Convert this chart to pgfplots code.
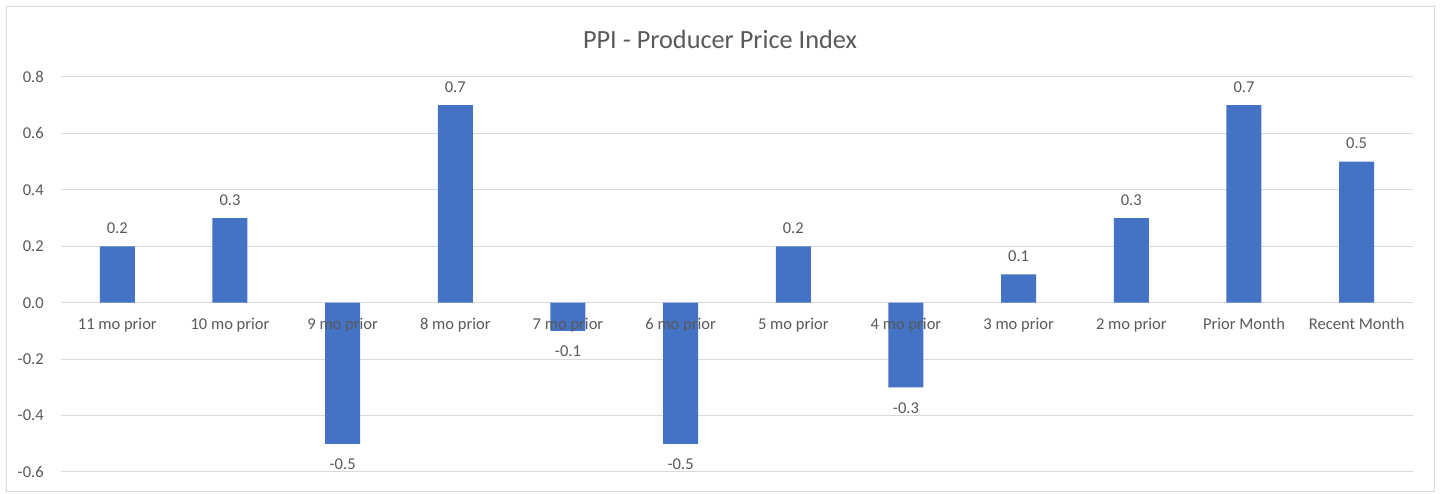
\documentclass[border=0pt]{standalone}
\usepackage{fontspec}
\setmainfont{Carlito}
\usepackage{pgfplots}
\pgfplotsset{compat=1.18}
\definecolor{barblue}{HTML}{4472C4}
\definecolor{txtgray}{HTML}{595959}
\definecolor{gridgray}{HTML}{D9D9D9}
\begin{document}
\begin{tikzpicture}
\path[use as bounding box] (0,0) rectangle (1084.5pt,369.75pt);
\draw[gridgray, line width=0.75pt] (4.5pt,1.5pt) rectangle (1075.5pt,364.5pt);
\node[txtgray, font=\fontsize{19.7}{22}\selectfont, anchor=center] at (540pt,340.5pt) {PPI - Producer Price Index};
\begin{axis}[
  axis on top,
  at={(45.75pt,15.75pt)}, anchor=south west,
  scale only axis,
  width=1014pt, height=296.25pt,
  xmin=-0.5, xmax=11.5,
  ymin=-0.6, ymax=0.8,
  ytick={-0.6,-0.4,-0.2,0,0.2,0.4,0.6,0.8},
  xtick={0,...,11},
  xticklabels={11 mo prior,10 mo prior,9 mo prior,8 mo prior,7 mo prior,6 mo prior,5 mo prior,4 mo prior,3 mo prior,2 mo prior,Prior Month,Recent Month},
  xticklabel style={anchor=base, yshift=106.5pt, inner sep=0pt, text=txtgray, font=\fontsize{12.4}{14}\selectfont},
  yticklabel style={anchor=east, inner sep=0pt, xshift=-12.75pt, text=txtgray, font=\fontsize{12.4}{14}\selectfont},
  /pgf/number format/.cd, fixed, fixed zerofill, precision=1, assume math mode=true,
  /pgfplots/.cd,
  major tick length=0pt,
  axis line style={draw=none},
  ybar, bar width=26.25pt,
  clip=false,
]
\pgfplotsinvokeforeach{-0.6,-0.4,-0.2,0,0.2,0.4,0.6,0.8}{
  \draw[gridgray, line width=0.75pt] (axis cs:-0.5,#1) -- (axis cs:11.5,#1);
}
\addplot[fill=barblue, draw=none, bar shift=0pt,
  nodes near coords={\pgfmathprintnumber[fixed,fixed zerofill,precision=1,assume math mode=true]{\pgfplotspointmeta}},
  every node near coord/.append style={anchor=base, inner sep=0pt, yshift=9.5pt, text=txtgray, font=\fontsize{12.4}{14}\selectfont}]
  coordinates {(0,0.2) (1,0.3) (3,0.7) (6,0.2) (8,0.1) (9,0.3) (10,0.7) (11,0.5)};
\addplot[fill=barblue, draw=none, bar shift=0pt,
  nodes near coords={\pgfmathprintnumber[fixed,fixed zerofill,precision=1,assume math mode=true]{\pgfplotspointmeta}},
  every node near coord/.append style={anchor=base, inner sep=0pt, yshift=-19.3pt, text=txtgray, font=\fontsize{12.4}{14}\selectfont}]
  coordinates {(2,-0.5) (4,-0.1) (5,-0.5) (7,-0.3)};
\end{axis}
\end{tikzpicture}
\end{document}
